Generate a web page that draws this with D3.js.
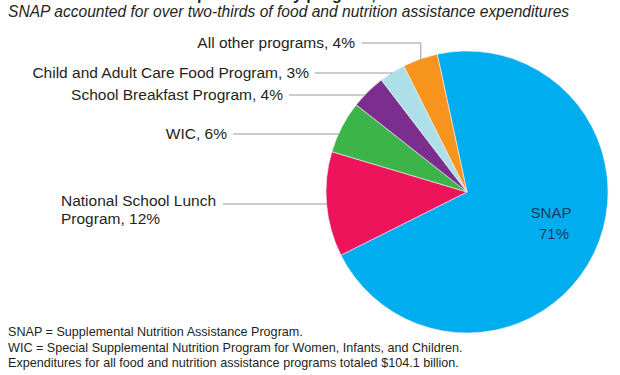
<!DOCTYPE html>
<html>
<head>
<meta charset="utf-8">
<script src="https://cdn.jsdelivr.net/npm/d3@7"></script>
<style>
  body { margin: 0; background: #fff; }
  svg { display: block; }
</style>
</head>
<body>
<div id="chart"></div>
<script>
// data
const programs = ["SNAP", "National School Lunch Program", "WIC", "School Breakfast Program",
                  "Child and Adult Care Food Program", "All other programs"];
const shares = [71, 12, 6, 4, 3, 4];
const colors = ["#00aeef", "#ed145b", "#3cb44a", "#7b2e8e", "#addfe9", "#f7941d"];

const title = "Food and nutrition assistance expenditures by program, FY 2015";
const subtitle = "SNAP accounted for over two-thirds of food and nutrition assistance expenditures";
const notes = [
  "SNAP = Supplemental Nutrition Assistance Program.",
  "WIC = Special Supplemental Nutrition Program for Women, Infants, and Children.",
  "Expenditures for all food and nutrition assistance programs totaled $104.1 billion."
];

const width = 620, height = 375;
const cx = 467, cy = 192, radius = 141;
const font = "'Liberation Sans', Arial, Helvetica, sans-serif";
const narrow = "'Liberation Sans Narrow', 'Arial Narrow', " + font;

const svg = d3.select("#chart")
  .append("svg")
    .attr("width", width)
    .attr("height", height);

// title (cut off at the top of the picture, only descenders show)
const tmp = svg.append("text")
  .style("font-family", narrow).style("font-size", "16px").style("font-weight", "bold")
  .text("Food and nutrition assistance ex");
const prefixW = tmp.node().getComputedTextLength();
tmp.remove();
svg.append("text")
  .attr("x", 197 - prefixW)
  .attr("y", 0)
  .style("font-family", narrow).style("font-size", "16px").style("font-weight", "bold")
  .style("fill", "#231f20")
  .text(title);

svg.append("text")
  .attr("x", 8)
  .attr("y", 17)
  .style("font-family", narrow).style("font-size", "15.6px").style("font-style", "italic")
  .style("fill", "#231f20")
  .text(subtitle);

// pie
const startA = -12.2 * Math.PI / 180;
const pie = d3.pie().sort(null).value(d => d)
  .startAngle(startA).endAngle(startA + 2 * Math.PI);
const arcs = pie(shares);
const arc = d3.arc().innerRadius(0).outerRadius(radius);

const g = svg.append("g").attr("transform", `translate(${cx},${cy})`);
g.selectAll("path")
  .data(arcs)
  .join("path")
    .attr("d", arc)
    .attr("fill", (d, i) => colors[i])
    .attr("stroke", "#f4f4f4")
    .attr("stroke-width", 0.6);

// SNAP label inside its slice
g.append("text")
  .attr("x", 84).attr("y", 26)
  .attr("text-anchor", "middle")
  .style("font-family", font).style("font-size", "15px")
  .style("fill", "#1f3a60")
  .text(programs[0]);
g.append("text")
  .attr("x", 87).attr("y", 47)
  .attr("text-anchor", "middle")
  .style("font-family", font).style("font-size", "15px")
  .style("fill", "#1f3a60")
  .text(shares[0] + "%");

// outside labels with leader lines (layout: label y and text end x)
const outside = [
  {i: 5, y: 43, textEnd: 355},
  {i: 4, y: 73, textEnd: 309},
  {i: 3, y: 95, textEnd: 283},
  {i: 2, y: 134, textEnd: 227},
  {i: 1, y: 204, textEnd: 215}
];

const lineColor = "#9a9a9a";
outside.forEach(o => {
  const a = arcs[o.i];
  const label = programs[o.i] === "National School Lunch Program"
    ? null : (o.i === 2 ? "WIC" : programs[o.i]) + ", " + shares[o.i] + "%";
  if (o.i === 5) {
    // elbow line down to the slice
    const mid = (a.startAngle + a.endAngle) / 2;
    const px = cx + Math.sin(mid) * (radius - 2);
    const py = cy - Math.cos(mid) * (radius - 2);
    svg.append("path")
      .attr("d", `M${o.textEnd + 7},${o.y}H${px}V${py}`)
      .attr("fill", "none")
      .attr("stroke", lineColor).attr("stroke-width", 1);
  } else {
    const dy = o.y - cy;
    const ex = cx - Math.sqrt(radius * radius - dy * dy) + 1;
    svg.append("line")
      .attr("x1", o.textEnd + (o.i === 1 ? 8 : 6)).attr("x2", ex)
      .attr("y1", o.y).attr("y2", o.y)
      .attr("stroke", lineColor).attr("stroke-width", 1);
  }
  if (label) {
    svg.append("text")
      .attr("x", o.textEnd).attr("y", o.y + 5)
      .attr("text-anchor", "end")
      .style("font-family", font).style("font-size", "15.5px")
      .style("fill", "#231f20")
      .text(label);
  } else {
    const t = svg.append("text")
      .attr("x", 61).attr("y", o.y + 2)
      .style("font-family", font).style("font-size", "15.5px")
      .style("fill", "#231f20");
    t.append("tspan").attr("x", 61).text("National School Lunch");
    t.append("tspan").attr("x", 61).attr("dy", 18).text("Program, " + shares[o.i] + "%");
  }
});

// footnotes
svg.selectAll("text.note")
  .data(notes)
  .join("text")
    .attr("class", "note")
    .attr("x", 8)
    .attr("y", (d, i) => 336 + i * 15.5)
    .style("font-family", font).style("font-size", "12.6px")
    .style("fill", "#231f20")
    .text(d => d);
</script>
</body>
</html>
